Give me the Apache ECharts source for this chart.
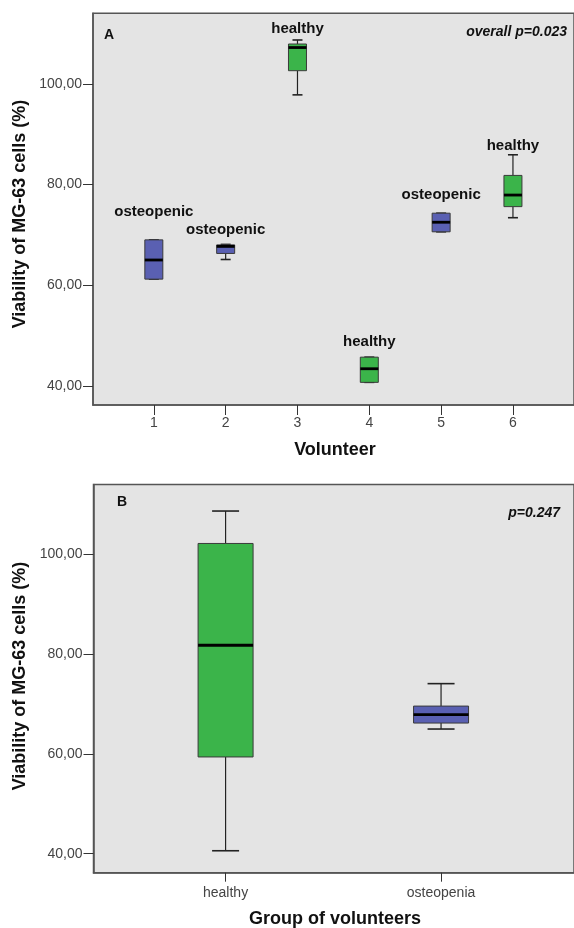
<!DOCTYPE html>
<html>
<head>
<meta charset="utf-8">
<script src="https://cdn.jsdelivr.net/npm/echarts@6/dist/echarts.min.js"></script>
<style>
  html, body { margin: 0; padding: 0; background: #fff; }
  #chart { width: 574px; height: 928px; }
</style>
</head>
<body>
<div id="chart"></div>
<script>
// panel A: one box per volunteer, [min, q1, median, q3, max]
const volunteers = [1, 2, 3, 4, 5, 6]
const volunteerGroup = ['osteopenic', 'osteopenic', 'healthy', 'healthy', 'osteopenic', 'healthy']
const volunteerStats = [
  [61.2, 61.2, 65.0, 69.0, 69.0],
  [65.1, 66.3, 67.7, 68.0, 68.1],
  [97.8, 102.6, 107.2, 107.9, 108.7],
  [40.7, 40.7, 43.4, 45.7, 45.7],
  [70.6, 70.6, 72.5, 74.3, 74.3],
  [73.4, 75.6, 77.9, 81.8, 85.9]
]
// value at which each group label sits
const labelLevels = [74.5, 70.9, 110.9, 48.7, 78.0, 87.7]

// panel B: one box per group
const groups = ['healthy', 'osteopenia']
const groupX = [1, 2]
const groupStats = [
  [40.6, 59.4, 81.8, 102.2, 108.7],
  [65.0, 66.2, 67.9, 69.6, 74.1]
]

const yTicks = [40, 60, 80, 100]
const pTexts = ['overall p=0.023', 'p=0.247']

const FONT = '"Liberation Sans", Arial, sans-serif'
const GREEN = '#3bb44a'
const BLUE = '#5a60b2'
const colorOf = { healthy: GREEN, osteopenic: BLUE, osteopenia: BLUE }

const chart = echarts.init(document.getElementById('chart'))

// draws a box with whiskers, caps, median and optional label
function boxRenderer (boxW, capW, names, withLabel) {
  return function (params, api) {
    const x = api.value(0)
    const pMin = api.coord([x, api.value(1)])
    const pQ1 = api.coord([x, api.value(2)])
    const pMed = api.coord([x, api.value(3)])
    const pQ3 = api.coord([x, api.value(4)])
    const pMax = api.coord([x, api.value(5)])
    const cx = pMed[0]
    const name = names[params.dataIndex]
    const line = { stroke: '#222', lineWidth: 1.2 }
    const children = [
      { type: 'line', shape: { x1: cx, y1: pMax[1], x2: cx, y2: pQ3[1] }, style: line },
      { type: 'line', shape: { x1: cx, y1: pQ1[1], x2: cx, y2: pMin[1] }, style: line },
      { type: 'line', shape: { x1: cx - capW / 2, y1: pMax[1], x2: cx + capW / 2, y2: pMax[1] }, style: { stroke: '#222', lineWidth: 1.6 } },
      { type: 'line', shape: { x1: cx - capW / 2, y1: pMin[1], x2: cx + capW / 2, y2: pMin[1] }, style: { stroke: '#222', lineWidth: 1.6 } },
      {
        type: 'rect',
        shape: { x: cx - boxW / 2, y: pQ3[1], width: boxW, height: pQ1[1] - pQ3[1] },
        style: { fill: colorOf[name], stroke: '#3a3a3a', lineWidth: 1 }
      },
      { type: 'line', shape: { x1: cx - boxW / 2, y1: pMed[1], x2: cx + boxW / 2, y2: pMed[1] }, style: { stroke: '#000', lineWidth: 2.8 } }
    ]
    if (withLabel) {
      const pl = api.coord([x, api.value(6)])
      children.push({
        type: 'text',
        style: {
          text: name, x: cx, y: pl[1], align: 'center', verticalAlign: 'middle',
          fontFamily: FONT, fontWeight: 'bold', fontSize: 15, fill: '#111'
        }
      })
    }
    return { type: 'group', children: children }
  }
}

const volunteerData = volunteers.map((v, i) => [v].concat(volunteerStats[i], [labelLevels[i]]))
const groupData = groupX.map((v, i) => [v].concat(groupStats[i]))

function yAxisOf (gridIndex) {
  return {
    type: 'value', gridIndex: gridIndex, min: 36.2, max: 114,
    axisLine: { show: true, lineStyle: { color: '#555', width: 1.5 } },
    axisTick: { show: true, length: 10, customValues: yTicks, lineStyle: { color: '#333' } },
    axisLabel: {
      customValues: yTicks, margin: 11, color: '#444', fontSize: 14, fontFamily: FONT,
      formatter: v => v.toFixed(2).replace('.', ',')
    },
    splitLine: { show: false }
  }
}

const titleStyle = { fontFamily: FONT, fontWeight: 'bold', fill: '#111' }

const optionData = {
  animation: false,
  grid: [
    { left: 93, top: 13.3, width: 485, height: 391.7, show: true, backgroundColor: '#e4e4e4', borderColor: '#555', borderWidth: 1.5 },
    { left: 93.5, top: 484.6, width: 484.5, height: 388.1, show: true, backgroundColor: '#e4e4e4', borderColor: '#555', borderWidth: 1.5 }
  ],
  xAxis: [
    {
      type: 'value', gridIndex: 0, min: 0.153, max: 6.85,
      axisLine: { show: true, lineStyle: { color: '#555', width: 1.5 } },
      axisTick: { show: true, length: 10, customValues: volunteers, lineStyle: { color: '#333' } },
      axisLabel: { customValues: volunteers, margin: 11, color: '#444', fontSize: 14, fontFamily: FONT },
      splitLine: { show: false }
    },
    {
      type: 'value', gridIndex: 1, min: 0.387, max: 2.617,
      axisLine: { show: true, lineStyle: { color: '#555', width: 1.5 } },
      axisTick: { show: true, length: 9, customValues: groupX, lineStyle: { color: '#333' } },
      axisLabel: {
        customValues: groupX, margin: 13, color: '#444', fontSize: 14, fontFamily: FONT,
        formatter: v => groups[groupX.indexOf(v)]
      },
      splitLine: { show: false }
    }
  ],
  yAxis: [yAxisOf(0), yAxisOf(1)],
  series: [
    {
      type: 'custom', xAxisIndex: 0, yAxisIndex: 0,
      renderItem: boxRenderer(18, 10, volunteerGroup, true),
      encode: { x: 0, y: [1, 2, 3, 4, 5] },
      data: volunteerData
    },
    {
      type: 'custom', xAxisIndex: 1, yAxisIndex: 1,
      renderItem: boxRenderer(55, 27, groups, false),
      encode: { x: 0, y: [1, 2, 3, 4, 5] },
      data: groupData
    }
  ],
  graphic: [
    { type: 'text', left: 104, top: 28, style: Object.assign({ text: 'A', fontSize: 14 }, titleStyle) },
    { type: 'text', x: 567, y: 32, style: Object.assign({ text: pTexts[0], fontSize: 14, fontStyle: 'italic', align: 'right', verticalAlign: 'middle' }, titleStyle) },
    { type: 'text', left: 117, top: 495, style: Object.assign({ text: 'B', fontSize: 14 }, titleStyle) },
    { type: 'text', x: 560, y: 512.8, style: Object.assign({ text: pTexts[1], fontSize: 14, fontStyle: 'italic', align: 'right', verticalAlign: 'middle' }, titleStyle) },
    { type: 'text', x: 335, y: 450, style: Object.assign({ text: 'Volunteer', fontSize: 18, align: 'center', verticalAlign: 'middle' }, titleStyle) },
    { type: 'text', x: 335, y: 919, style: Object.assign({ text: 'Group of volunteers', fontSize: 18, align: 'center', verticalAlign: 'middle' }, titleStyle) },
    { type: 'text', x: 20, y: 214, rotation: Math.PI / 2, style: Object.assign({ text: 'Viability of MG-63 cells (%)', fontSize: 18, align: 'center', verticalAlign: 'middle' }, titleStyle) },
    { type: 'text', x: 20, y: 676, rotation: Math.PI / 2, style: Object.assign({ text: 'Viability of MG-63 cells (%)', fontSize: 18, align: 'center', verticalAlign: 'middle' }, titleStyle) }
  ]
}

chart.setOption(optionData)
</script>
</body>
</html>
